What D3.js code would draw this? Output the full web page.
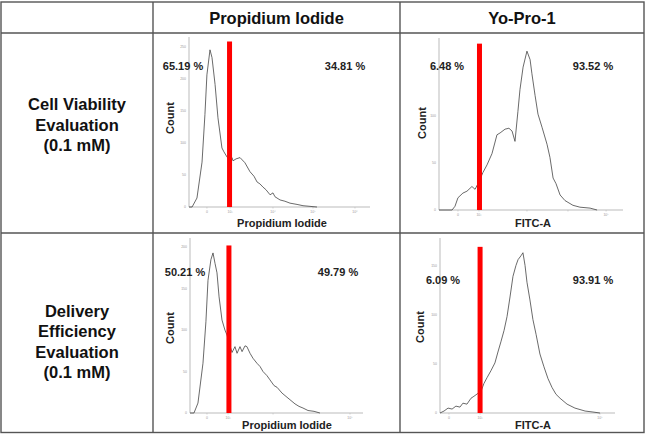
<!DOCTYPE html>
<html>
<head>
<meta charset="utf-8">
<script src="https://cdn.jsdelivr.net/npm/d3@7"></script>
<style>
  body { margin: 0; background: #fff; }
  svg { display: block; font-family: "Liberation Sans", Arial, sans-serif; }
</style>
</head>
<body>
<svg id="chart" width="646" height="434"></svg>
<script>
// column / row headers
var columnNames = ['Propidium Iodide', 'Yo-Pro-1']
var rowNames = [['Cell Viability', 'Evaluation', '(0.1 mM)'],
                ['Delivery', 'Efficiency', 'Evaluation', '(0.1 mM)']]

// histograms: [channel (0-100 along the x axis), count]
var viabilityPI = [[0,0],[1.7,0],[4.4,14],[7.2,70],[8.8,144],[9.9,206],[11.6,245],[12.7,233],[14.4,191],
  [16,139],[18.2,92],[19.3,86],[21,78],[22.1,74],[23.8,77],[24.3,72],[26,75],[28.2,77],[30.9,69],
  [33.7,55],[35.9,48],[37.6,39],[39.2,36],[40.9,31],[42.5,27],[44.8,19],[46.4,22],[47.5,16],[50.3,11],
  [53,9],[55.8,6],[59.7,4],[63,2],[70.7,0]]
var viabilityYoPro = [[0,0],[7.1,0],[8.7,4],[10.3,13],[13,18],[15.2,20],[17.9,25],[19.6,22],[21.7,30],
  [23.9,40],[26.1,48],[28.8,60],[31.5,80],[33.2,82],[35.9,86],[38,87],[39.7,84],[41.3,73],[42.9,105],
  [44,128],[45.7,152],[47.8,169],[49.5,160],[50.5,145],[52.2,122],[53.8,102],[56,88],[58.7,70],
  [60.3,56],[62,34],[63.6,28],[65.8,16],[68.5,10],[72.8,5],[76.6,3],[82.1,2],[85.9,0]]
var deliveryPI = [[0,0],[2.3,0],[4.6,12],[7.5,60],[9.2,110],[10.4,160],[12.1,185],[13.3,193],[14.5,180],
  [15.6,169],[16.8,140],[18.5,112],[20.2,100],[21.4,94],[22.5,85],[24.3,73],[26,80],[27.2,72],[28.9,80],
  [30.1,74],[31.8,81],[32.9,80],[34.7,72],[36.4,66],[38.7,60],[40.5,56],[42.2,50],[44.5,45],[46.2,40],
  [48.6,33],[50.3,31],[53.2,24],[55.5,20],[57.8,16],[60.7,11],[63,8],[65.3,6],[68.2,3],[71.7,2],[75.1,0]]
var deliveryYoPro = [[0,0],[2.3,2],[4.6,5],[6.9,4],[9.1,7],[11.4,6],[13.1,10],[15.4,9],[17.7,15],
  [19.4,17],[21.7,20],[23.4,22],[25.1,30],[26.9,36],[29.1,43],[31.4,51],[33.1,62],[34.9,73],[36.6,84],
  [38.3,98],[40,118],[41.7,139],[43.4,150],[44.6,156],[46.3,160],[47.4,163],[48.6,150],[49.7,133],
  [51.4,115],[53.1,95],[54.9,80],[57.1,60],[59.4,47],[61.7,35],[64,26],[66.3,19],[68.6,15],[72.6,9],
  [77.1,5],[82.9,2],[87.4,1],[91.4,0]]

var leftPercents = ['65.19 %', '6.48 %', '50.21 %', '6.09 %']
var rightPercents = ['34.81 %', '93.52 %', '49.79 %', '93.91 %']
var gateChannels = [22.4, 22, 22.5, 22.9]
var gateTops = [258, 177, 202, 169]
var axisMax = [265, 183, 211, 178]
var xLabels = ['Propidium Iodide', 'FITC-A', 'Propidium Iodide', 'FITC-A']
var yTicks = [[0, 50, 100, 150, 200, 250], [0, 50, 100, 150], [0, 50, 100, 150, 200], [0, 50, 100, 150]]
var xTickPos = [[9.9, 22.7, 46.4, 68.5, 91.7], [10.3, 21.7, 47.8, 70.1, 90.8], [9.8, 22, 48, 92.5], [5.1, 22.9, 91.4]]
var xTickText = [['0', '10³', '10⁴', '10⁵', '10⁶'], ['0', '10³', '', '', '10⁵'], ['0', '10³', '', '10⁵'], ['0', '10³', '10⁵']]
var histograms = [viabilityPI, viabilityYoPro, deliveryPI, deliveryYoPro]

var svg = d3.select('#chart')

// table grid
var colEdges = [1, 153, 400, 644]
var rowEdges = [2, 33, 233, 432.5]
var lineColor = '#555'

svg.append('rect')
  .attr('x', colEdges[0]).attr('y', rowEdges[0])
  .attr('width', colEdges[3] - colEdges[0]).attr('height', rowEdges[3] - rowEdges[0])
  .style('fill', 'none').style('stroke', lineColor).style('stroke-width', 1.4)

colEdges.slice(1, 3).forEach(function(x){
  svg.append('line').attr('x1', x).attr('x2', x).attr('y1', rowEdges[0]).attr('y2', rowEdges[3])
    .style('stroke', lineColor).style('stroke-width', 1.4)
})
rowEdges.slice(1, 3).forEach(function(y){
  svg.append('line').attr('x1', colEdges[0]).attr('x2', colEdges[3]).attr('y1', y).attr('y2', y)
    .style('stroke', lineColor).style('stroke-width', 1.4)
})

columnNames.forEach(function(name, i){
  svg.append('text')
    .attr('x', (colEdges[i + 1] + colEdges[i + 2]) / 2).attr('y', 23.5)
    .attr('text-anchor', 'middle')
    .style('font-size', '16.5px').style('font-weight', 'bold').style('fill', '#111')
    .text(name)
})

var rowCenters = [124.5, 341.5]
rowNames.forEach(function(lines, r){
  var lh = 20.5
  var start = rowCenters[r] - (lines.length - 1) * lh / 2
  lines.forEach(function(line, k){
    svg.append('text')
      .attr('x', 77).attr('y', start + k * lh + 6)
      .attr('text-anchor', 'middle')
      .style('font-size', '16.5px').style('font-weight', 'bold').style('fill', '#111')
      .text(line)
  })
})

// plot boxes: x0, x1 (x axis), base (y of zero), top (y of axisMax)
var boxes = [
  {x0: 189, x1: 370, base: 207, top: 37, pctY: 70, countX: 174, countY: 118, labX: 282, labY: 227, lx: 183, rx: 345},
  {x0: 439, x1: 623, base: 210, top: 38, pctY: 70, countX: 426, countY: 123, labX: 533, labY: 227, lx: 447, rx: 593},
  {x0: 190, x1: 363, base: 413, top: 238, pctY: 276, countX: 174, countY: 328, labX: 287, labY: 429, lx: 185, rx: 338},
  {x0: 440, x1: 615, base: 413, top: 238, pctY: 284, countX: 424, countY: 327, labX: 533, labY: 429, lx: 443, rx: 593}
]

boxes.forEach(function(b, i){
  var x = d3.scaleLinear().domain([0, 100]).range([b.x0, b.x1])
  var y = d3.scaleLinear().domain([0, axisMax[i]]).range([b.base, b.top])
  var g = svg.append('g')

  // axes
  g.append('line').attr('x1', b.x0).attr('x2', b.x0).attr('y1', b.top).attr('y2', b.base)
    .style('stroke', '#aaa').style('stroke-width', 0.8)
  g.append('line').attr('x1', b.x0).attr('x2', b.x1).attr('y1', b.base).attr('y2', b.base)
    .style('stroke', '#aaa').style('stroke-width', 0.8)

  yTicks[i].forEach(function(t){
    g.append('text').attr('x', b.x0 - 3).attr('y', y(t) + 1.2)
      .attr('text-anchor', 'end').style('font-size', '3.5px').style('fill', '#999')
      .text(t)
  })
  xTickPos[i].forEach(function(t, k){
    g.append('line').attr('x1', x(t)).attr('x2', x(t)).attr('y1', b.base).attr('y2', b.base + 1.5)
      .style('stroke', '#bbb').style('stroke-width', 0.6)
    g.append('text').attr('x', x(t)).attr('y', b.base + 5.5)
      .attr('text-anchor', 'middle').style('font-size', '3.5px').style('fill', '#999')
      .text(xTickText[i][k])
  })

  // histogram
  var line = d3.line()
    .x(function(d){ return x(d[0]) })
    .y(function(d){ return y(d[1]) })
  g.append('path')
    .datum(histograms[i])
    .attr('d', line)
    .style('fill', 'none').style('stroke', '#444').style('stroke-width', 0.8)

  // gate bar
  g.append('rect')
    .attr('x', x(gateChannels[i]) - 2.5).attr('width', 5)
    .attr('y', y(gateTops[i])).attr('height', b.base - y(gateTops[i]))
    .style('fill', '#f00')

  g.append('text').attr('x', b.lx).attr('y', b.pctY)
    .attr('text-anchor', 'middle').style('font-size', '11px').style('font-weight', 'bold').style('fill', '#222')
    .text(leftPercents[i])
  g.append('text').attr('x', b.rx).attr('y', b.pctY)
    .attr('text-anchor', 'middle').style('font-size', '11px').style('font-weight', 'bold').style('fill', '#222')
    .text(rightPercents[i])

  g.append('text')
    .attr('transform', 'translate(' + b.countX + ',' + b.countY + ') rotate(-90)')
    .attr('text-anchor', 'middle').style('font-size', '11px').style('font-weight', 'bold').style('fill', '#222')
    .text('Count')
  g.append('text').attr('x', b.labX).attr('y', b.labY)
    .attr('text-anchor', 'middle').style('font-size', '11px').style('font-weight', 'bold').style('fill', '#222')
    .text(xLabels[i])
})
</script>
</body>
</html>
